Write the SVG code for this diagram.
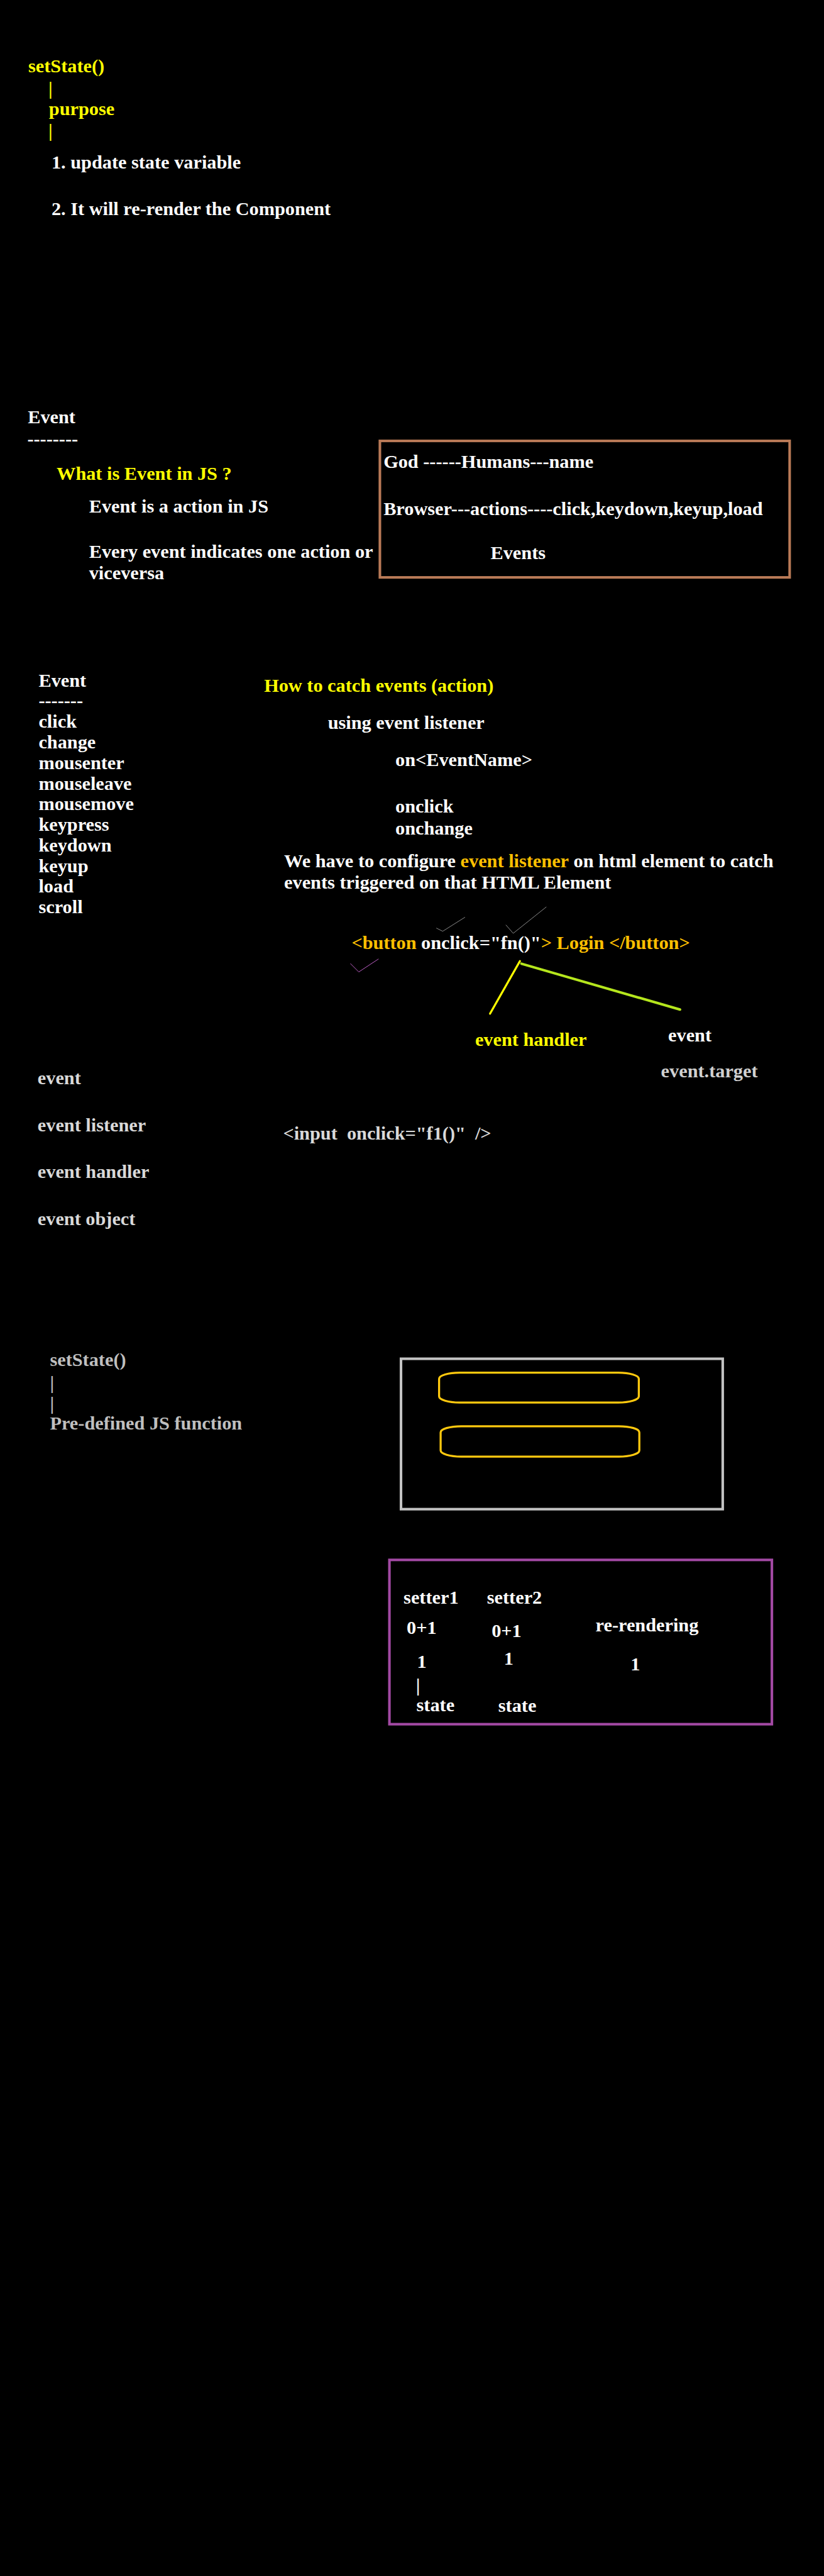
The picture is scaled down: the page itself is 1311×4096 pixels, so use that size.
<svg xmlns="http://www.w3.org/2000/svg" width="1311" height="4096" viewBox="0 0 1311 4096">
<style>
text{font-family:"Liberation Serif","Times New Roman",serif;font-weight:bold;font-size:37px;fill:#FFFFFF;white-space:pre}
.y{fill:#FFFF00}
.o{fill:#FFC000}
.g{fill:#D9D9D9}
.s{fill:#BFBFBF}
.et{fill:#D0D0D0}
</style>
<rect x="0" y="0" width="1311" height="4096" fill="#000000"/>
<g transform="scale(0.819)">
<g id="setstate-purpose">
<text x="55" y="140" class="y">setState()</text>
<text x="94" y="184" class="y">|</text>
<text x="95" y="223" class="y">purpose</text>
<text x="94" y="266" class="y">|</text>
<text x="100" y="327">1. update state variable</text>
<text x="100" y="418">2. It will re-render the Component</text>
</g>
<g id="event-intro">
<text x="54" y="822">Event</text>
<text x="53" y="864">--------</text>
<text x="110" y="932" class="y">What is Event in JS ?</text>
<text x="173" y="995">Event is a action in JS</text>
<text x="173" y="1083">Every event indicates one action or</text>
<text x="173" y="1125">viceversa</text>
</g>
<g id="analogy-box">
<rect x="738" y="856" width="796" height="265" fill="none" stroke="#B97A57" stroke-width="5"/>
<text x="745" y="909">God ------Humans---name</text>
<text x="745" y="1000">Browser---actions----click,keydown,keyup,load</text>
<text x="953" y="1085">Events</text>
</g>
<g id="event-list">
<text x="75" y="1333">Event</text>
<text x="75" y="1373">-------</text>
<text x="75" y="1413">click</text>
<text x="75" y="1453">change</text>
<text x="75" y="1493">mousenter</text>
<text x="75" y="1533">mouseleave</text>
<text x="75" y="1573">mousemove</text>
<text x="75" y="1613">keypress</text>
<text x="75" y="1653">keydown</text>
<text x="75" y="1693">keyup</text>
<text x="75" y="1733">load</text>
<text x="75" y="1773">scroll</text>
</g>
<g id="catch-events">
<text x="513" y="1343" class="y">How to catch events (action)</text>
<text x="637" y="1415">using event listener</text>
<text x="768" y="1487">on&lt;EventName&gt;</text>
<text x="768" y="1577">onclick</text>
<text x="768" y="1620">onchange</text>
<text x="552" y="1684">We have to configure <tspan class="o">event listener</tspan> on html element to catch</text>
<text x="552" y="1725">events triggered on that HTML Element</text>
</g>
<g id="button-code">
<text x="683" y="1843"><tspan class="o">&lt;button</tspan> onclick="fn()"<tspan class="o">&gt; Login &lt;/button&gt;</tspan></text>
</g>
<g id="event-handler-label">
<text x="923" y="2030" class="y">event handler</text>
</g>
<g id="event-label">
<text x="1298" y="2022">event</text>
<text x="1284" y="2092" class="et">event.target</text>
</g>
<g id="connectors" fill="none" stroke-linecap="round" stroke-linejoin="round">
<polyline points="848,1802 860,1808 903,1781" stroke="#8C8C8C" stroke-width="1.2"/>
<polyline points="983,1796 997,1812 1061,1761" stroke="#8C8C8C" stroke-width="1.2"/>
<polyline points="681,1871 697,1887 735,1862" stroke="#C060C8" stroke-width="1.2"/>
<line x1="1010" y1="1866" x2="952" y2="1968" stroke="#FFFF00" stroke-width="4"/>
<line x1="1013" y1="1871" x2="1321" y2="1960" stroke="#B5E61D" stroke-width="5"/>
</g>
<g id="terms">
<text x="73" y="2105" class="g">event</text>
<text x="73" y="2197" class="g">event listener</text>
<text x="73" y="2287" class="g">event handler</text>
<text x="73" y="2378" class="g">event object</text>
<text x="550" y="2213" class="g">&lt;input  onclick="f1()"  /&gt;</text>
</g>
<g id="setstate-predefined">
<text x="97" y="2652" class="s">setState()</text>
<text x="97" y="2697" class="s">|</text>
<text x="97" y="2737" class="s">|</text>
<text x="97" y="2775" class="s">Pre-defined JS function</text>
</g>
<g id="ui-box">
<rect x="779" y="2638" width="625" height="292" fill="none" stroke="#C3C3C3" stroke-width="5"/>
<rect x="853" y="2665" width="388" height="58" rx="40" ry="12" fill="none" stroke="#FFC90E" stroke-width="4"/>
<rect x="856" y="2769" width="386" height="59" rx="40" ry="12" fill="none" stroke="#FFC90E" stroke-width="4"/>
</g>
<g id="setter-box">
<rect x="756.5" y="3028.5" width="743" height="319" fill="none" stroke="#A349A4" stroke-width="5"/>
<text x="784" y="3113">setter1</text>
<text x="946" y="3113">setter2</text>
<text x="790" y="3172">0+1</text>
<text x="955" y="3178">0+1</text>
<text x="1157" y="3167">re-rendering</text>
<text x="810" y="3238">1</text>
<text x="979" y="3232">1</text>
<text x="1225" y="3243">1</text>
<text x="808" y="3284">|</text>
<text x="809" y="3322">state</text>
<text x="968" y="3323">state</text>
</g>
</g>
</svg>
